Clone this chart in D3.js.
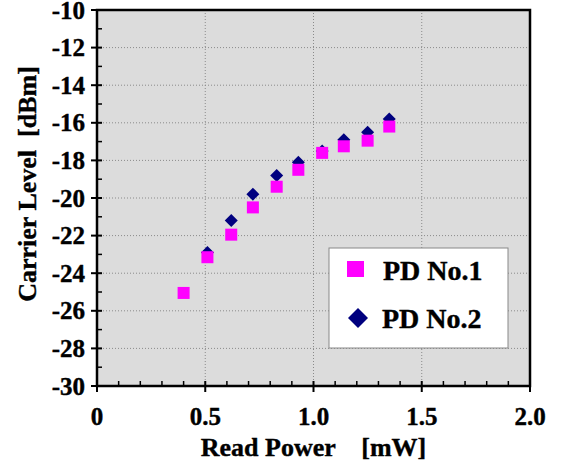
<!DOCTYPE html>
<html lang="en">
<head>
<meta charset="UTF-8" />
<title>Carrier Level vs Read Power</title>
<script src="https://d3js.org/d3.v7.min.js"></script>
<style>
  body { margin: 0; background: #fff; }
  svg { display: block; }
  text { font-family: 'Liberation Serif', 'Times New Roman', Times, 'DejaVu Serif', serif; font-weight: 700; fill: #000; stroke: #000; stroke-width: 0.4px; }
</style>
</head>
<body>
<svg id="chart" width="562" height="468"></svg>
<script>
// read power [mW]
const power1 = [0.40, 0.51, 0.62, 0.72, 0.83, 0.93, 1.04, 1.14, 1.25, 1.35];
const level1 = [-25.05, -23.15, -21.95, -20.5, -19.4, -18.5, -17.6, -17.25, -16.95, -16.2];
const power2 = [0.51, 0.62, 0.72, 0.83, 0.93, 1.04, 1.14, 1.25, 1.35];
const level2 = [-22.9, -21.2, -19.8, -18.8, -18.1, -17.5, -16.9, -16.5, -15.8];

const xTicks = [0, 0.5, 1.0, 1.5, 2.0];
const xTickLabels = ["0", "0.5", "1.0", "1.5", "2.0"];
const yTicks = [-30, -28, -26, -24, -22, -20, -18, -16, -14, -12, -10];

const seriesNames = ["PD No.1", "PD No.2"];

const margin = { left: 97, top: 10, right: 32, bottom: 82 };
const W = 562, H = 468;
const pw = W - margin.left - margin.right;
const ph = H - margin.top - margin.bottom;

const svg = d3.select("#chart");
const g = svg.append("g").attr("transform", `translate(${margin.left},${margin.top})`);

const x = d3.scaleLinear().domain([0, 2]).range([0, pw]);
const y = d3.scaleLinear().domain([-30, -10]).range([ph, 0]);

// plot background
g.append("rect").attr("width", pw).attr("height", ph).attr("fill", "#dcdcdc");

// dotted grid
g.selectAll(".gx").data(xTicks.slice(1, -1)).join("line")
  .attr("x1", d => x(d)).attr("x2", d => x(d)).attr("y1", 0).attr("y2", ph)
  .attr("stroke", "#8a8a8a").attr("stroke-width", 1).attr("stroke-dasharray", "1,2");
g.selectAll(".gy").data(yTicks.slice(1, -1)).join("line")
  .attr("y1", d => y(d)).attr("y2", d => y(d)).attr("x1", 0).attr("x2", pw)
  .attr("stroke", "#8a8a8a").attr("stroke-width", 1).attr("stroke-dasharray", "1,2");

// minor ticks (inside)
const xMinor = d3.range(0, 21).map(i => i / 10).filter(v => Math.round(v * 10) % 5 !== 0);
g.selectAll(".mx").data(xMinor).join("line")
  .attr("x1", d => x(d)).attr("x2", d => x(d)).attr("y1", ph).attr("y2", ph - 5)
  .attr("stroke", "#000").attr("stroke-width", 1.5);
const yMinor = d3.range(-29, -10, 2);
g.selectAll(".my").data(yMinor).join("line")
  .attr("y1", d => y(d)).attr("y2", d => y(d)).attr("x1", 0).attr("x2", 5)
  .attr("stroke", "#000").attr("stroke-width", 1.5);

// major ticks (crossing)
g.selectAll(".tx").data(xTicks).join("line")
  .attr("x1", d => x(d)).attr("x2", d => x(d)).attr("y1", ph - 5).attr("y2", ph + 6)
  .attr("stroke", "#000").attr("stroke-width", 2);
g.selectAll(".ty").data(yTicks).join("line")
  .attr("y1", d => y(d)).attr("y2", d => y(d)).attr("x1", -6).attr("x2", 5)
  .attr("stroke", "#000").attr("stroke-width", 2);

// frame
g.append("rect").attr("width", pw).attr("height", ph)
  .attr("fill", "none").attr("stroke", "#000").attr("stroke-width", 2.5);

// tick labels
g.selectAll(".lx").data(xTicks).join("text")
  .attr("x", d => x(d)).attr("y", ph + 39)
  .attr("text-anchor", "middle").attr("font-size", 25)
  .text((d, i) => xTickLabels[i]);
g.selectAll(".ly").data(yTicks).join("text")
  .attr("x", -12).attr("y", d => y(d) + 8.5)
  .attr("text-anchor", "end").attr("font-size", 25)
  .text(d => d);

// axis titles
svg.append("text")
  .attr("x", margin.left + pw / 2).attr("y", 456)
  .attr("text-anchor", "middle").attr("font-size", 26)
  .attr("xml:space", "preserve")
  .text("Read Power    [mW]");
svg.append("text")
  .attr("transform", `translate(36,184) rotate(-90)`)
  .attr("text-anchor", "middle").attr("font-size", 26)
  .attr("xml:space", "preserve")
  .text("Carrier Level  [dBm]");

// data: PD No.2 diamonds behind PD No.1 squares
const diamond = s => `M0,${-s}L${s},0L0,${s}L${-s},0Z`;
g.selectAll(".d2").data(power2).join("path")
  .attr("d", diamond(6.5))
  .attr("transform", (d, i) => `translate(${x(d)},${y(level2[i])})`)
  .attr("fill", "#00007f");
g.selectAll(".d1").data(power1).join("rect")
  .attr("x", d => x(d) - 6).attr("y", (d, i) => y(level1[i]) - 6)
  .attr("width", 12).attr("height", 12)
  .attr("fill", "#ff00ff");

// legend
const lg = svg.append("g").attr("transform", "translate(329,248)");
lg.append("rect").attr("width", 179).attr("height", 100)
  .attr("fill", "#fff").attr("stroke", "#888").attr("stroke-width", 1);
lg.append("rect").attr("x", 18).attr("y", 13).attr("width", 17).attr("height", 16).attr("fill", "#ff00ff");
lg.append("path").attr("d", diamond(10)).attr("transform", "translate(29,70)").attr("fill", "#00007f");
lg.append("text").attr("x", 54).attr("y", 32).attr("font-size", 28).text(seriesNames[0]);
lg.append("text").attr("x", 53).attr("y", 80).attr("font-size", 28).text(seriesNames[1]);
</script>
</body>
</html>
